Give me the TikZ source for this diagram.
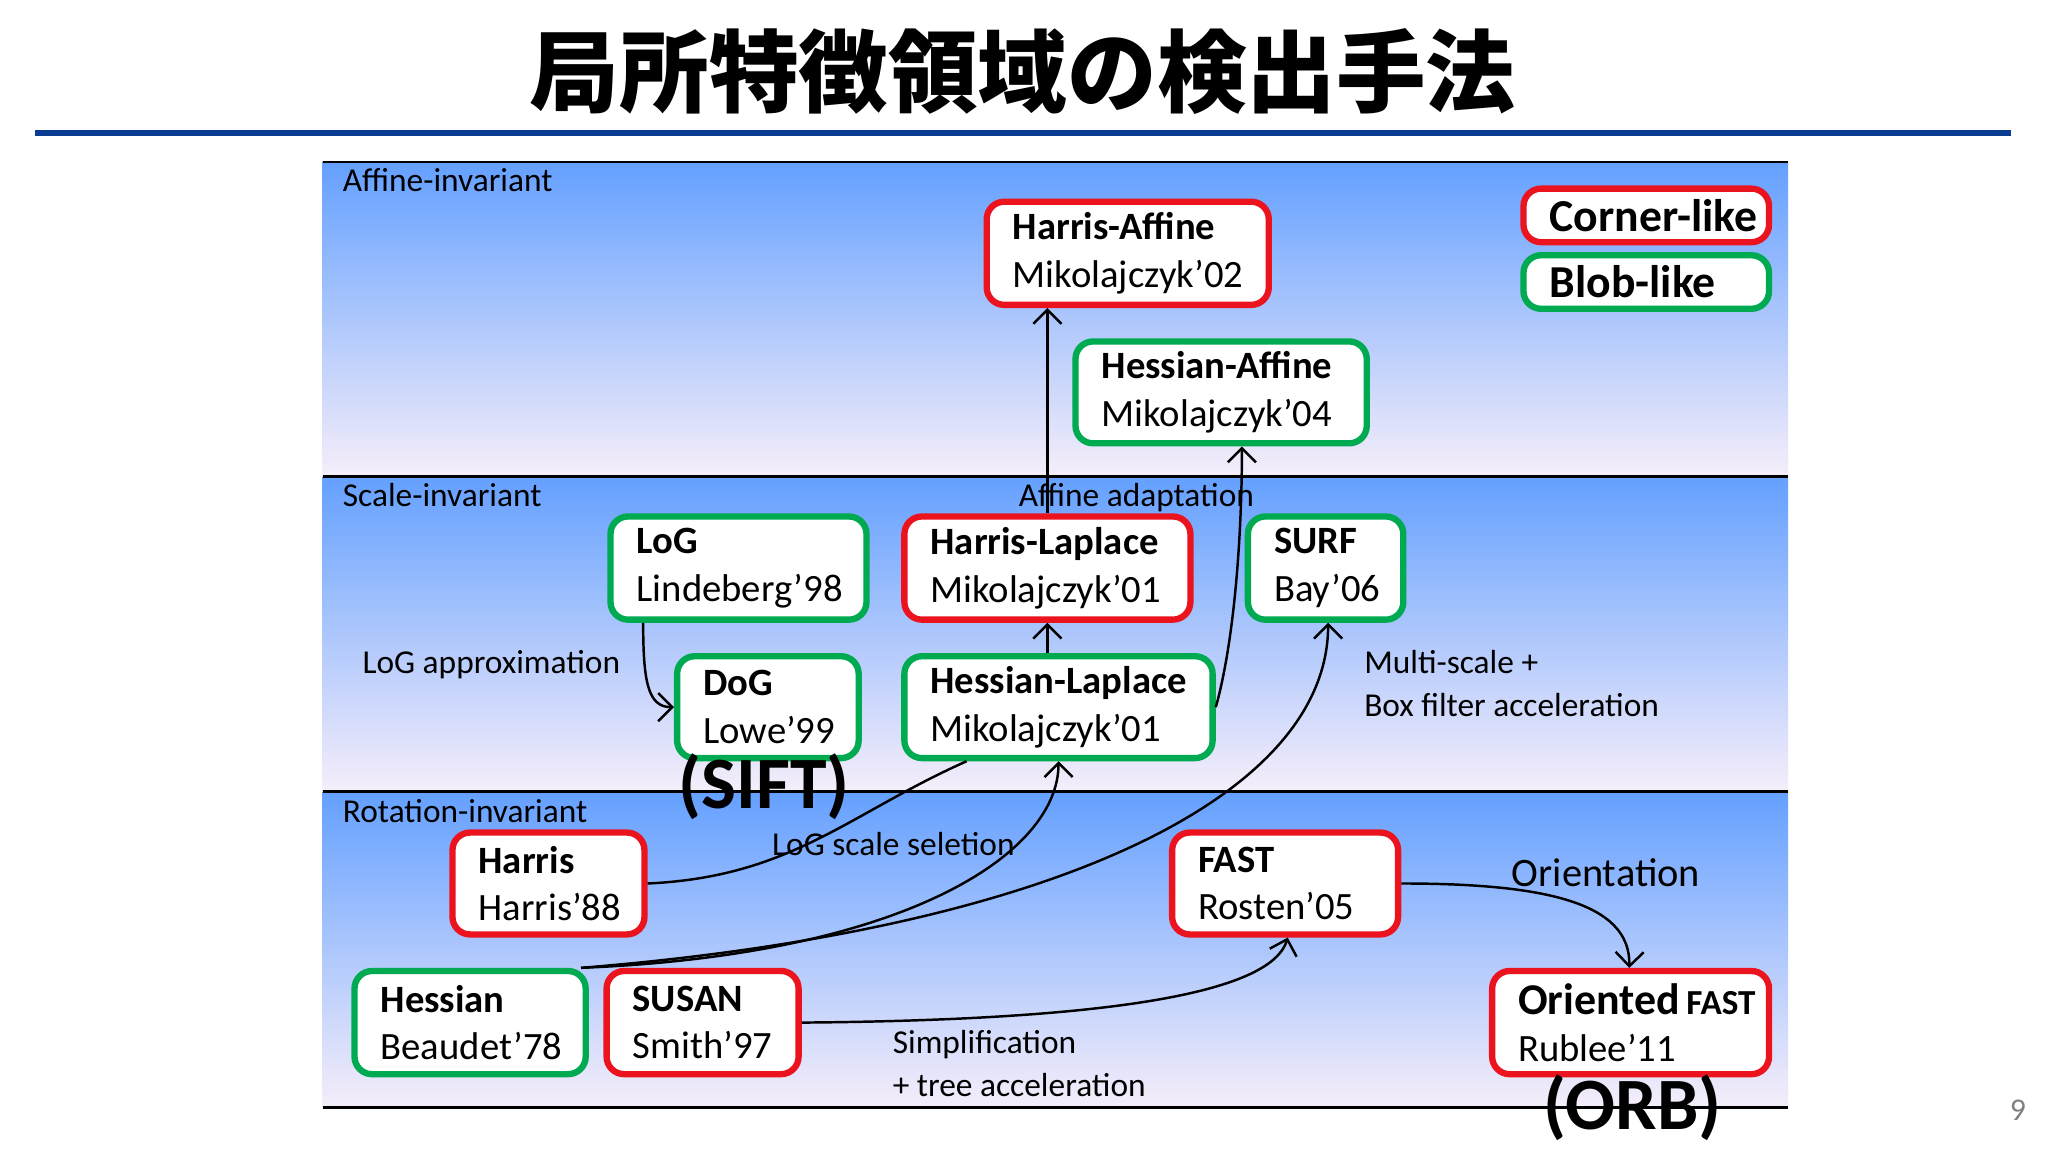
\documentclass[tikz,border=0pt]{standalone}
\usepackage{fontspec}
\setmainfont{Carlito}
\newfontfamily\cjk{Noto Sans CJK JP}
\usetikzlibrary{arrows.meta}
\def\u{0.013061cm}
\newdimen\lpad \lpad=0.2612cm
\definecolor{bred}{RGB}{235,20,30}
\definecolor{bgreen}{RGB}{0,170,80}
\definecolor{ttl}{RGB}{10,60,145}
\definecolor{btop}{RGB}{100,160,255}
\definecolor{bbot}{RGB}{246,238,250}
\tikzset{
 box/.style={draw=#1, line width=1.8pt, rounded corners=5pt, fill=white, anchor=north west, align=left, inner xsep=0pt, inner ysep=0pt, font=\fontsize{11}{13.5}\selectfont, execute at begin node={\leftskip=\lpad}},
 lbl/.style={inner sep=0pt, font=\fontsize{9.5}{12}\selectfont},
 arr/.style={line width=0.7pt, -{Straight Barb[length=4pt,width=8pt]}},
 ln/.style={line width=0.7pt},
}
\newcommand{\bx}[7]{\node[box=#2, minimum width=#5*\u, minimum height=#6*\u, text width=#5*\u] (#1) at (#3,#4) {#7};}
\begin{document}
\begin{tikzpicture}[x=0.013061cm,y=-0.013061cm]
\useasboundingbox (0,0) rectangle (1568,882);
\fill[white] (0,0) rectangle (1568,882);
\node[font=\cjk\bfseries\fontsize{25.5}{28}\selectfont] (title) at (783,55) {局所特徴領域の検出手法};
\draw[ttl, line width=1.6pt] (27,102) -- (1540,102);
\foreach \a/\b in {124/365,365/606,606/848}{
 \shade[top color=btop, bottom color=bbot] (247,\a) rectangle (1369,\b);}
\foreach \a in {124,365,606,848}{\draw[line width=0.8pt] (247,\a) -- (1369,\a);}
\node[lbl, anchor=west] (l1) at (262,138) {Affine-invariant};
\node[lbl, anchor=west] (l2) at (262,379) {Scale-invariant};
\node[lbl, anchor=west] (l3) at (262,621) {Rotation-invariant};

\bx{hafn}{bred}{753}{152}{216}{79}{\textbf{Harris-Affine}\\Mikolajczyk’02}
\bx{hesafn}{bgreen}{821}{259}{223}{78}{\textbf{Hessian-Affine}\\Mikolajczyk’04}
\node[box=bred, minimum width=188*\u, minimum height=41*\u, text width=188*\u, font=\fontsize{13}{15}\selectfont\bfseries] (corner) at (1164,142) {Corner-like};
\node[box=bgreen, minimum width=188*\u, minimum height=41*\u, text width=188*\u, font=\fontsize{13}{15}\selectfont\bfseries] (blob) at (1164,193) {Blob-like};
\bx{log}{bgreen}{465}{393}{196}{79}{\textbf{LoG}\\Lindeberg’98}
\bx{hlap}{bred}{690}{393}{219}{79}{\textbf{Harris-Laplace}\\Mikolajczyk’01}
\bx{surf}{bgreen}{953}{393}{119}{79}{\textbf{SURF}\\Bay’06}
\bx{dog}{bgreen}{516}{500}{139}{78}{\textbf{DoG}\\Lowe’99}
\bx{heslap}{bgreen}{690}{500}{236}{78}{\textbf{Hessian-Laplace}\\Mikolajczyk’01}
\bx{harris}{bred}{344}{635}{147}{78}{\textbf{Harris}\\Harris’88}
\bx{fast}{bred}{895}{635}{173}{78}{\textbf{FAST}\\Rosten’05}
\bx{hessian}{bgreen}{269}{741}{177}{79}{\textbf{Hessian}\\Beaudet’78}
\bx{susan}{bred}{462}{741}{147}{79}{\textbf{SUSAN}\\Smith’97}
\bx{ofast}{bred}{1140}{741}{212}{79}{\textbf{\fontsize{12.5}{13.5}\selectfont Oriented}\,\textbf{\fontsize{10}{12}\selectfont FAST}\\Rublee’11}

\node[lbl] (aa) at (870,381) {Affine adaptation};
\node[lbl, anchor=west] (logap) at (277,509) {LoG approximation};
\node[lbl, anchor=north west, align=left, font=\fontsize{9.5}{12.3}\selectfont] (ms) at (1044,497) {Multi-scale +\\Box filter acceleration};
\node[lbl, font=\bfseries\fontsize{21}{24}\selectfont] (sift) at (585,602) {(SIFT)};
\node[lbl] (lss) at (684,646) {LoG scale seletion};
\node[lbl, anchor=west, font=\fontsize{11.5}{14}\selectfont] (ori) at (1157,668) {Orientation};
\node[lbl, anchor=north west, align=left, font=\fontsize{9.5}{12.3}\selectfont] (simp) at (683,788) {Simplification\\+ tree acceleration};
\node[lbl, font=\bfseries\fontsize{21}{24}\selectfont] (orb) at (1250,848) {(ORB)};
\node[lbl, text=gray, font=\fontsize{9}{10}\selectfont] (pg) at (1545,850) {9};

\draw[arr] (hlap.north) -- (hafn.south -| hlap.north);
\draw[arr] (heslap.north -| hlap.south) -- (hlap.south);
\coordinate (ha) at ([xshift=-98*\u]hesafn.south east);
\draw[arr] (heslap.east) .. controls ([shift={(14,-50)}]heslap.east) and ([shift={(0,70)}]ha) .. (ha);
\draw[arr] ([xshift=-73*\u]log.south) .. controls ([shift={(-73,45)}]log.south) and ([shift={(-20,0)}]dog.west) .. (dog.west);
\draw[ln] (harris.east) .. controls ([shift={(110,-5)}]harris.east) and ([shift={(-40,40)}]heslap.south west) .. ([xshift=50*\u]heslap.south west);
\coordinate (hs) at ([xshift=-6*\u]hessian.north east);
\coordinate (hl) at ([xshift=0*\u]heslap.south);
\coordinate (sf) at ([xshift=-60*\u]surf.south east);
\draw[arr] (hs) .. controls ([shift={(250,-10)}]hs) and ([shift={(0,70)}]hl) .. (hl);
\draw[arr] (hs) .. controls ([shift={(370,-30)}]hs) and ([shift={(0,130)}]sf) .. (sf);
\draw[arr] (susan.east) .. controls ([shift={(250,-2)}]susan.east) and ([shift={(-10,40)}]fast.south) .. ([xshift=2*\u]fast.south);
\draw[arr] (fast.east) .. controls ([shift={(110,0)}]fast.east) and ([shift={(0,-50)}]ofast.north) .. ([xshift=-1*\u]ofast.north);
\end{tikzpicture}
\end{document}
